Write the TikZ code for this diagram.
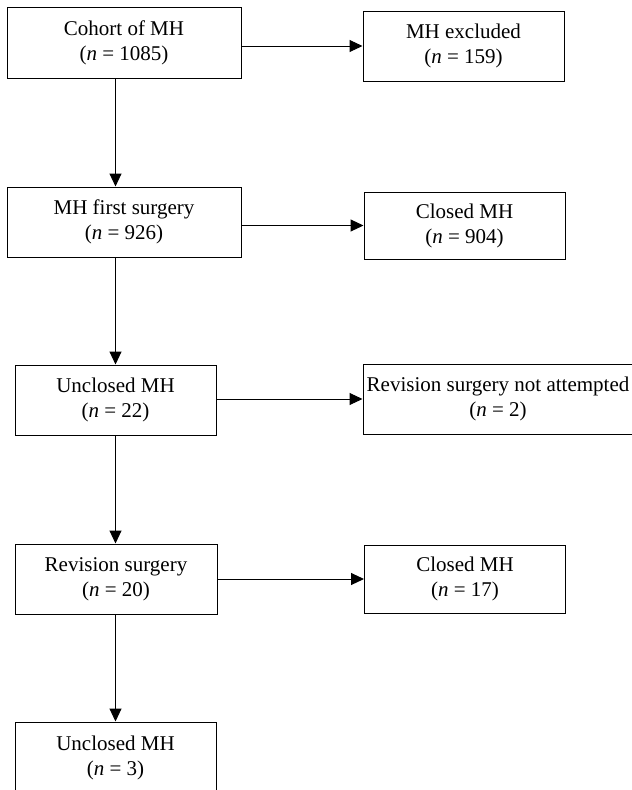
\documentclass[tikz,border=0pt]{standalone}
\usepackage{fontspec}
\setmainfont{Liberation Serif}
\usetikzlibrary{arrows.meta}
\usetikzlibrary{positioning}

\begin{document}
\begin{tikzpicture}[x=1pt,y=-1pt,->,>={Triangle[length=13pt,width=12pt]},line width=1pt,
    main node/.style={draw,rectangle,inner sep=0pt,align=center,font=\fontsize{21}{25}\selectfont},
    wide node/.style={main node,minimum width=234pt,minimum height=70pt},
    small node/.style={main node,minimum width=201pt,minimum height=70pt}]
   \useasboundingbox (0,0) rectangle (632,790);
   \begin{scope}
      \coordinate (spine) at (115.5,0);
      % left column
      \node[wide node,minimum height=71pt] (coh) at (124,42.5) {Cohort of MH\\(\textit{n} = 1085)};
      \node[wide node] (first) at (124,222) {MH first surgery\\(\textit{n} = 926)};
      \node[small node] (uncl) at (115.5,400) {Unclosed MH\\(\textit{n} = 22)};
      \node[small node,minimum width=202pt] (rev) at (116,579) {Revision surgery\\(\textit{n} = 20)};
      \node[small node,minimum height=71pt] (unclb) at (115.5,757.5) {Unclosed MH\\(\textit{n} = 3)};
      % right column
      \node[small node] (exc) at (463.5,46) {MH excluded\\(\textit{n} = 159)};
      \node[small node,minimum height=67pt] (clo) at (464.5,225.5) {Closed MH\\(\textit{n} = 904)};
      \node[small node,minimum width=270pt] (nat) at (498,399) {Revision surgery not attempted\\(\textit{n} = 2)};
      \node[small node,minimum height=68pt] (clob) at (465,579) {Closed MH\\(\textit{n} = 17)};
      % down the spine
      \path (coh.south -| spine) edge (first.north -| spine);
      \path (first.south -| spine) edge (uncl.north -| spine);
      \path (uncl.south -| spine) edge (rev.north -| spine);
      \path (rev.south -| spine) edge (unclb.north -| spine);
      % to the right
      \path (coh.east |- exc.west) edge (exc.west);
      \path (first.east |- clo.west) edge (clo.west);
      \path (uncl.east |- nat.west) edge (nat.west);
      \path (rev.east |- clob.west) edge (clob.west);
   \end{scope}
\end{tikzpicture}
\end{document}
